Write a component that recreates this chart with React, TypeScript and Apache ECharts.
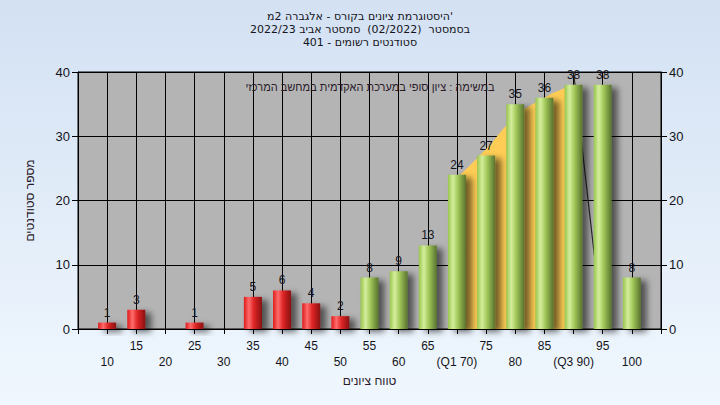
import React, { useEffect, useRef } from "react";
import * as echarts from "echarts";

const gradeBins = [10, 15, 20, 25, 30, 35, 40, 45, 50, 55, 60, 65, 70, 75, 80, 85, 90, 95, 100];
const studentCounts = [1, 3, 0, 1, 0, 5, 6, 4, 2, 8, 9, 13, 24, 27, 35, 36, 38, 38, 8];
const passingGrade = 55;
const bandX = [70, 75, 80, 85, 90];
const bandY = [23.5, 28, 33, 36, 38];
const markLineX = [90, 95];
const markLineY = [40, 0];
const specialTickLabels: Record<number, string> = { 70: "(Q1 70)", 90: "(Q3 90)" };
const titleLines = [
  "היסטוגרמת ציונים בקורס - אלגברה 2מ'",
  "בסמסטר  (02/2022)  סמסטר אביב 2022/23",
  "סטודנטים רשומים - 401",
];
const noteText = "במשימה : ציון סופי במערכת האקדמית במחשב המרכזי";
const xAxisName = "טווח ציונים";
const yAxisName = "מספר סטודנטים";

const FONT = "'Liberation Sans', Arial, sans-serif";
const TITLE_FONT = "'DejaVu Sans', 'Liberation Sans', sans-serif";
const TXT = "#141420";

const greenGrad = new echarts.graphic.LinearGradient(0, 0, 1, 0, [
  { offset: 0, color: "#98c44c" },
  { offset: 0.28, color: "#d4ee9c" },
  { offset: 0.55, color: "#a2c85a" },
  { offset: 1, color: "#58722e" },
]);
const redGrad = new echarts.graphic.LinearGradient(0, 0, 1, 0, [
  { offset: 0, color: "#e01a1a" },
  { offset: 0.28, color: "#ff6c6c" },
  { offset: 0.55, color: "#e02626" },
  { offset: 1, color: "#881010" },
]);

export default function App() {
  const ref = useRef<HTMLDivElement>(null);
  useEffect(() => {
    if (!ref.current) return;
    const chart = echarts.init(ref.current, undefined, { renderer: "svg" });
    const yAxisCommon = {
      type: "value" as const,
      min: 0,
      max: 40,
      interval: 10,
      axisLine: { show: true, lineStyle: { color: "#000", width: 1 } },
      axisTick: { show: true, length: 6, lineStyle: { color: "#000" } },
      axisLabel: { color: TXT, fontSize: 13, fontFamily: FONT, margin: 8 },
    };
    chart.setOption({
      animation: false,
      backgroundColor: new echarts.graphic.LinearGradient(0, 0, 0, 1, [
        { offset: 0, color: "#d3e1f3" },
        { offset: 1, color: "#f0f7fe" },
      ]),
      graphic: [
        ...titleLines.map((t, i) => ({
          type: "text",
          x: 360,
          y: 16 + i * 13,
          z: 10,
          style: {
            text: t,
            fill: TXT,
            font: `11px ${TITLE_FONT}`,
            textAlign: "center",
            textVerticalAlign: "middle",
          },
        })),
        {
          type: "text",
          x: 370,
          y: 87,
          z: 10,
          style: {
            text: noteText,
            fill: "#2a1a2a",
            font: `11px ${FONT}`,
            textAlign: "center",
            textVerticalAlign: "middle",
          },
        },
      ],
      grid: {
        left: 78,
        right: 59,
        top: 72,
        bottom: 76,
        show: true,
        backgroundColor: "#b4b4b4",
        borderColor: "#000",
        borderWidth: 1,
      },
      xAxis: {
        type: "value",
        min: 5,
        max: 105,
        interval: 5,
        name: xAxisName,
        nameLocation: "middle",
        nameGap: 45,
        nameTextStyle: { color: "#2a1a2a", fontSize: 12, fontFamily: FONT },
        axisLine: { show: true, onZero: false, lineStyle: { color: "#000", width: 1 } },
        axisTick: { show: true, length: 5, lineStyle: { color: "#000" } },
        splitLine: { show: true, lineStyle: { color: "#000", width: 1 } },
        axisLabel: {
          color: TXT,
          fontSize: 12,
          fontFamily: FONT,
          margin: 9,
          lineHeight: 16,
          showMinLabel: true,
          showMaxLabel: true,
          formatter: (v: number) => {
            if (v < 10 || v > 100) return "";
            const t = specialTickLabels[v] ?? String(v);
            return v % 10 === 0 ? "\n" + t : t;
          },
        },
      },
      yAxis: [
        {
          ...yAxisCommon,
          position: "left",
          name: yAxisName,
          nameLocation: "middle",
          nameGap: 42,
          nameRotate: 90,
          nameTextStyle: { color: "#2a1a2a", fontSize: 12, fontFamily: FONT },
          splitLine: { show: true, lineStyle: { color: "#000", width: 1 } },
        },
        {
          ...yAxisCommon,
          position: "right",
          splitLine: { show: false },
        },
      ],
      series: [
        {
          type: "line",
          z: 1,
          data: bandX.map((x, i) => [x, bandY[i]]),
          smooth: true,
          symbol: "none",
          lineStyle: { width: 0 },
          areaStyle: { color: "#ffcd55", opacity: 1 },
          silent: true,
        },
        {
          type: "line",
          z: 1,
          data: markLineX.map((x, i) => [x, markLineY[i]]),
          symbol: "none",
          lineStyle: { color: "#2a2a2a", width: 1.2 },
          silent: true,
        },
        {
          type: "bar",
          z: 3,
          barWidth: 18,
          data: gradeBins.map((g, i) => ({
            value: [g, studentCounts[i]],
            itemStyle: {
              color: g >= passingGrade ? greenGrad : redGrad,
              shadowColor: "rgba(0,0,0,0.55)",
              shadowBlur: 6,
              shadowOffsetX: 6,
              shadowOffsetY: 3,
            },
          })),
          label: {
            show: true,
            position: "top",
            distance: 4,
            color: TXT,
            fontSize: 12,
            fontFamily: FONT,
            formatter: (p: any) => (p.value[1] === 0 ? "" : String(p.value[1])),
          },
        },
      ],
    });
    return () => chart.dispose();
  }, []);
  return (
    <div
      ref={ref}
      style={{ position: "fixed", left: 0, top: 0, width: 720, height: 405 }}
    />
  );
}
